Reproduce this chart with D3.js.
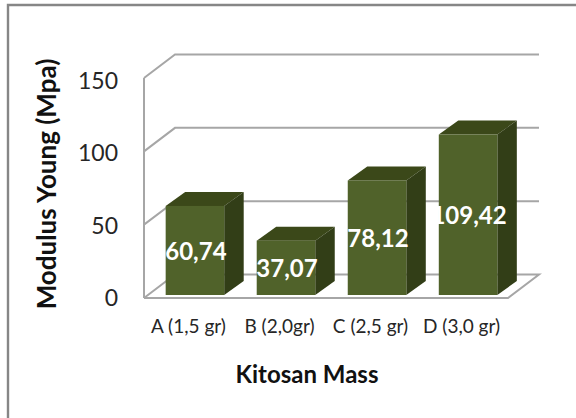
<!DOCTYPE html>
<html>
<head>
<meta charset="utf-8">
<script src="https://cdnjs.cloudflare.com/ajax/libs/d3/7.8.5/d3.min.js"></script>
<style>
  html, body { margin: 0; padding: 0; background: #fff; }
  svg { display: block; }
  text { font-family: Lato, "Open Sans", sans-serif; }
</style>
</head>
<body>
<div id="chart-container"></div>
<script>
// Chart values
var categories = ["A (1,5 gr)", "B (2,0gr)", "C (2,5 gr)", "D (3,0 gr)"];
var values = [60.74, 37.07, 78.12, 109.42];
var labels = ["60,74", "37,07", "78,12", "109,42"];
var yTicks = [0, 50, 100, 150];

var width = 576, height = 418;

// 3D look: the back wall is the front plane shifted by this offset
var wallDx = 31, wallDy = -23.5;
var barDx = 19.5, barDy = -14;
var barLift = 3; // bars stand a little in from the front edge of the floor
var floorRight = 508;

var svg = d3.select("#chart-container")
  .append("svg")
  .attr("width", width)
  .attr("height", height);

// Outer frame, only the top and left edges are in the crop
svg.append("path")
  .attr("d", d3.line()([[8, height], [8, 5], [width, 5]]))
  .attr("fill", "none")
  .attr("stroke", "#868686")
  .attr("stroke-width", 2.4);

var xScale = d3.scaleBand()
  .domain(categories)
  .range([144, 519])
  .paddingInner(0.357)
  .paddingOuter(0.238);

var yScale = d3.scaleLinear()
  .domain([0, 150])
  .range([298, 78]);

// Tick labels sit on a slightly shorter run than the wall
var yLabelScale = d3.scaleLinear()
  .domain([0, 150])
  .range([306, 89]);

var grid = svg.append("g").attr("fill", "none").attr("stroke", "#a6a6a6").attr("stroke-width", 2);

// Back wall gridlines with their slanted piece on the side wall
yTicks.forEach(function(t) {
  if (t === 0) return;
  grid.append("path").attr("d", d3.line()([
    [144, yScale(t)],
    [144 + wallDx, yScale(t) + wallDy],
    [floorRight + wallDx, yScale(t) + wallDy]
  ]));
});

// Side wall edge and floor
grid.append("path").attr("d", d3.line()([[144, yScale(150)], [144, yScale(0)]]));
grid.append("path").attr("d", d3.line()([
  [144, yScale(0)],
  [144 + wallDx, yScale(0) + wallDy],
  [floorRight + wallDx, yScale(0) + wallDy],
  [floorRight, yScale(0)],
  [144, yScale(0)]
]));

// Bars
var bars = svg.selectAll(".bar")
  .data(values)
  .enter()
  .append("g")
  .attr("class", "bar");

function barX(i) { return xScale(categories[i]); }
function barTop(d) { return yScale(d) - barLift; }

// Top face
bars.append("path")
  .attr("fill", "#3b4819")
  .attr("d", function(d, i) {
    var x = barX(i), w = xScale.bandwidth(), y = barTop(d);
    return d3.line()([[x, y], [x + barDx, y + barDy], [x + w + barDx, y + barDy], [x + w, y]]) + "Z";
  });

// Side face
bars.append("path")
  .attr("fill", "#323e17")
  .attr("d", function(d, i) {
    var x = barX(i) + xScale.bandwidth(), y = barTop(d), y0 = yScale(0) - barLift;
    return d3.line()([[x, y], [x + barDx, y + barDy], [x + barDx, y0 + barDy], [x, y0]]) + "Z";
  });

// Front face
bars.append("rect")
  .attr("fill", "#50622a")
  .attr("x", function(d, i) { return barX(i); })
  .attr("y", barTop)
  .attr("width", xScale.bandwidth())
  .attr("height", function(d) { return yScale(0) - barLift - barTop(d); });

// Value labels get cut off at the left edge of the bar, as in the original
bars.append("clipPath")
  .attr("id", function(d, i) { return "label-clip-" + i; })
  .append("rect")
  .attr("x", function(d, i) { return barX(i) - 1; })
  .attr("y", 0)
  .attr("width", 120)
  .attr("height", height);

bars.append("text")
  .attr("clip-path", function(d, i) { return "url(#label-clip-" + i + ")"; })
  .attr("x", function(d, i) { return barX(i) + xScale.bandwidth() / 2 + 1; })
  .attr("y", function(d) { return (barTop(d) + yScale(0) - barLift) / 2 + 9.5; })
  .attr("text-anchor", "middle")
  .attr("fill", "#fff")
  .style("font-size", "24px")
  .style("font-weight", "700")
  .text(function(d, i) { return labels[i]; });

// Y tick labels
svg.selectAll(".y-tick")
  .data(yTicks)
  .enter()
  .append("text")
  .attr("class", "y-tick")
  .attr("x", 118)
  .attr("y", function(d) { return yLabelScale(d); })
  .attr("text-anchor", "end")
  .attr("fill", "#262626")
  .style("font-size", "23px")
  .text(function(d) { return d; });

// X tick labels
svg.selectAll(".x-tick")
  .data(categories)
  .enter()
  .append("text")
  .attr("class", "x-tick")
  .attr("x", function(d) { return xScale(d) + xScale.bandwidth() / 2 - 6.5; })
  .attr("y", 333)
  .attr("text-anchor", "middle")
  .attr("fill", "#262626")
  .style("font-size", "19px")
  .text(function(d) { return d; });

// Axis titles
svg.append("text")
  .attr("x", 307).attr("y", 383)
  .attr("text-anchor", "middle")
  .attr("fill", "#111")
  .style("font-size", "24px")
  .style("font-weight", "700")
  .text("Kitosan Mass");

svg.append("text")
  .attr("transform", "translate(56,184) rotate(-90)")
  .attr("text-anchor", "middle")
  .attr("fill", "#111")
  .style("font-size", "26px")
  .style("font-weight", "700")
  .text("Modulus Young (Mpa)");
</script>
</body>
</html>
